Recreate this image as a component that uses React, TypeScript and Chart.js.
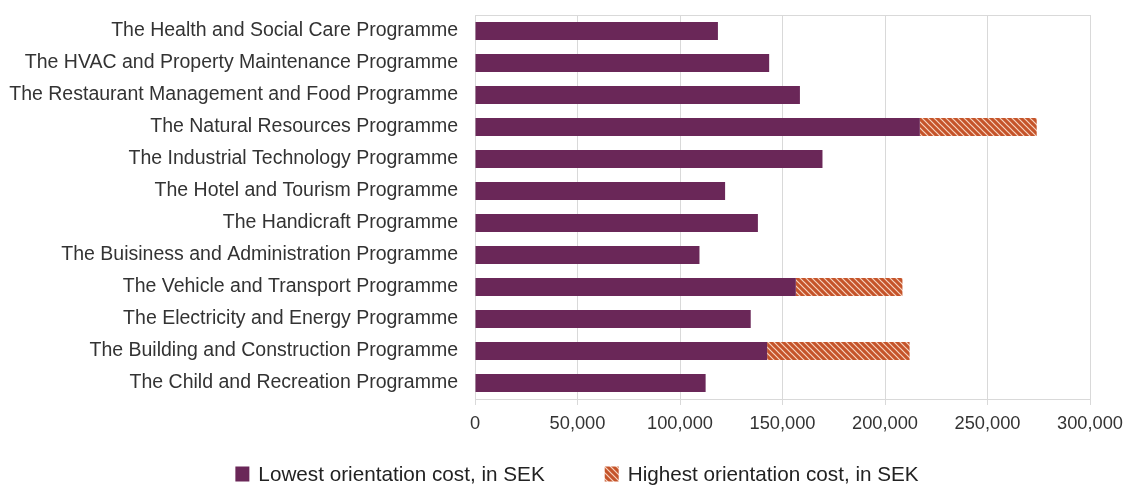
import React, { useEffect, useRef } from "react";
import { Chart, registerables } from "chart.js";

Chart.register(...registerables);

const categories = [
  "The Health and Social Care Programme",
  "The HVAC and Property Maintenance Programme",
  "The Restaurant Management and Food Programme",
  "The Natural Resources Programme",
  "The Industrial Technology Programme",
  "The Hotel and Tourism Programme",
  "The Handicraft Programme",
  "The Buisiness and Administration Programme",
  "The Vehicle and Transport Programme",
  "The Electricity and Energy Programme",
  "The Building and Construction Programme",
  "The Child and Recreation Programme",
];

const lowestCost = [
  118500, 143500, 158500, 217000, 169500, 122000, 138000, 109500, 156500, 134500, 142500, 112500,
];

const highestCost: (number | null)[] = [
  null, null, null, 274000, null, null, null, null, 208500, null, 212000, null,
];

const xTicks = [0, 50000, 100000, 150000, 200000, 250000, 300000];

const seriesLabels = ["Lowest orientation cost, in SEK", "Highest orientation cost, in SEK"];

const FONT = "Liberation Sans, Arial, sans-serif";

function makeHatch(): CanvasPattern | string {
  const c = document.createElement("canvas");
  c.width = 6;
  c.height = 6;
  const ctx = c.getContext("2d");
  if (!ctx) return "#c65a2e";
  ctx.fillStyle = "#c5542a";
  ctx.fillRect(0, 0, 6, 6);
  ctx.strokeStyle = "rgba(255,235,220,0.85)";
  ctx.lineWidth = 1.2;
  ctx.beginPath();
  ctx.moveTo(-1, -1);
  ctx.lineTo(7, 7);
  ctx.moveTo(-4, 2);
  ctx.lineTo(2, 8);
  ctx.moveTo(2, -4);
  ctx.lineTo(8, 2);
  ctx.stroke();
  const p = ctx.createPattern(c, "repeat");
  return p || "#c65a2e";
}

const frame = {
  id: "frame",
  afterDatasetsDraw(chart: any) {
    const { ctx, chartArea } = chart;
    ctx.save();
    ctx.strokeStyle = "#d9d9d9";
    ctx.lineWidth = 1;
    ctx.beginPath();
    ctx.moveTo(chartArea.left, chartArea.top + 0.5);
    ctx.lineTo(chartArea.right, chartArea.top + 0.5);
    ctx.stroke();
    ctx.restore();
  },
};

const bottomLegend = {
  id: "bottomLegend",
  afterDraw(chart: any) {
    const { ctx } = chart;
    const fontSize = 20.7;
    const boxW = 14;
    const boxH = 15;
    const textGap = 9;
    const itemGap = 60;
    const centerX = 577;
    const centerY = 474;
    ctx.save();
    ctx.font = `${fontSize}px ${FONT}`;
    const items = chart.data.datasets.map((ds: any) => ({
      text: ds.label as string,
      fill: ds.backgroundColor,
      w: boxW + textGap + ctx.measureText(ds.label).width,
    }));
    const total = items.reduce((s: number, it: any) => s + it.w, 0) + itemGap * (items.length - 1);
    let x = centerX - total / 2;
    ctx.textBaseline = "middle";
    ctx.textAlign = "left";
    for (const it of items) {
      ctx.fillStyle = it.fill;
      ctx.fillRect(x, centerY - boxH / 2, boxW, boxH);
      ctx.fillStyle = "#222222";
      ctx.fillText(it.text, x + boxW + textGap, centerY + 1);
      x += it.w + itemGap;
    }
    ctx.restore();
  },
};

export default function App() {
  const ref = useRef<HTMLCanvasElement | null>(null);
  useEffect(() => {
    document.body.style.margin = "0";
    document.body.style.overflow = "hidden";
    if (!ref.current) return;
    const hatch = makeHatch();
    const extra = highestCost.map((h, i) => (h == null ? null : h - lowestCost[i]));
    const chart = new Chart(ref.current, {
      type: "bar",
      data: {
        labels: categories,
        datasets: [
          {
            label: seriesLabels[0],
            data: lowestCost,
            backgroundColor: "#6a2758",
            borderWidth: 0,
            barPercentage: 0.57,
            categoryPercentage: 1,
          },
          {
            label: seriesLabels[1],
            data: extra as any,
            backgroundColor: hatch as any,
            borderWidth: 0,
            barPercentage: 0.57,
            categoryPercentage: 1,
          },
        ],
      },
      options: {
        indexAxis: "y",
        animation: false,
        responsive: true,
        maintainAspectRatio: false,
        layout: { padding: { left: 0, right: 37, top: 15, bottom: 52 } },
        scales: {
          x: {
            stacked: true,
            min: 0,
            max: 300000,
            afterBuildTicks: (axis: any) => {
              axis.ticks = xTicks.map((v) => ({ value: v }));
            },
            afterFit: (axis: any) => {
              axis.paddingLeft = 0;
              axis.paddingRight = 0;
              axis.height = 36;
            },
            grid: { color: "#d9d9d9", lineWidth: 1, tickLength: 6, drawTicks: true },
            border: { display: true, color: "#d9d9d9" },
            ticks: {
              color: "#333333",
              font: { family: FONT, size: 18.3 },
              padding: 8,
              maxRotation: 0,
              autoSkip: false,
              callback: (v: any) => Number(v).toLocaleString("en-US"),
            },
          },
          y: {
            stacked: true,
            afterFit: (axis: any) => {
              axis.width = 475;
              axis.paddingTop = 0;
              axis.paddingBottom = 0;
            },
            grid: { display: false },
            border: { display: true, color: "#d9d9d9" },
            ticks: {
              color: "#333333",
              font: { family: FONT, size: 19.5 },
              padding: 9,
              autoSkip: false,
            },
          },
        },
        plugins: {
          legend: { display: false },
          tooltip: { enabled: false },
        },
      },
      plugins: [frame, bottomLegend],
    });
    return () => chart.destroy();
  }, []);
  return (
    <div style={{ width: 1127, height: 487, position: "relative" }}>
      <canvas ref={ref} />
    </div>
  );
}
